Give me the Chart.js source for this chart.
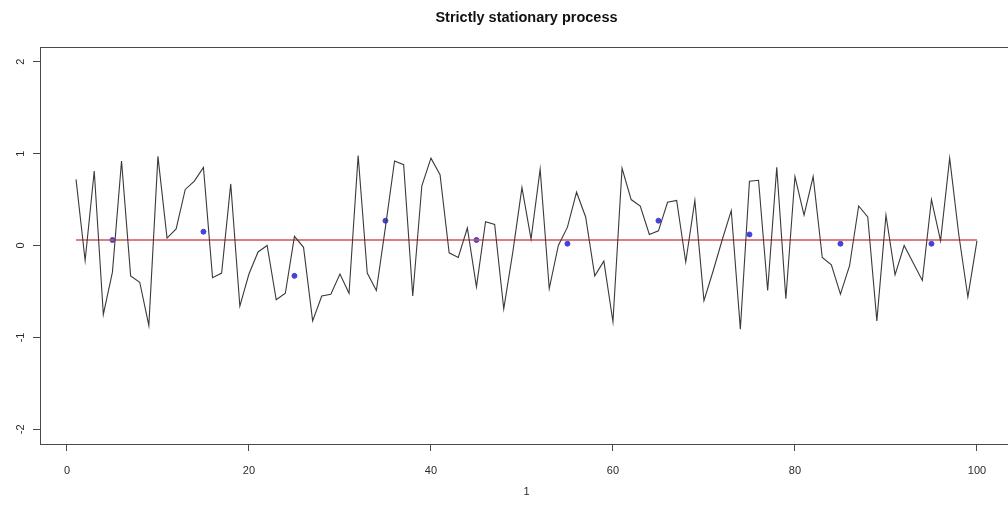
<!DOCTYPE html>
<html>
<head>
<meta charset="utf-8">
<script src="https://cdn.jsdelivr.net/npm/chart.js@4/dist/chart.umd.min.js"></script>
<style>
  html, body { margin: 0; padding: 0; background: #fff; overflow: hidden; }
  #wrap { width: 1008px; height: 506px; overflow: hidden; }
</style>
</head>
<body>
<div id="wrap"><canvas id="myChart" width="1021" height="506"></canvas></div>
<script>
const titleText = 'Strictly stationary process';
const xAxisTitle = '1';
const xTicks = [0, 20, 40, 60, 80, 100];
const yTicks = [-2, -1, 0, 1, 2];

// the process, t = 1..100
const series = [
  0.72, -0.165, 0.81, -0.75, -0.29, 0.92, -0.33, -0.40, -0.87, 0.97,
  0.08, 0.18, 0.61, 0.70, 0.85, -0.35, -0.30, 0.67, -0.66, -0.31,
  -0.07, 0.0, -0.59, -0.52, 0.10, -0.02, -0.82, -0.55, -0.53, -0.31,
  -0.52, 0.98, -0.30, -0.49, 0.20, 0.92, 0.88, -0.55, 0.65, 0.95,
  0.77, -0.08, -0.13, 0.19, -0.45, 0.26, 0.23, -0.69, -0.07, 0.63,
  0.07, 0.83, -0.47, 0.0, 0.20, 0.58, 0.31, -0.33, -0.17, -0.83,
  0.84, 0.50, 0.43, 0.12, 0.16, 0.47, 0.49, -0.18, 0.49, -0.60,
  -0.28, 0.06, 0.38, -0.91, 0.70, 0.71, -0.49, 0.85, -0.58, 0.75,
  0.33, 0.75, -0.13, -0.21, -0.53, -0.22, 0.43, 0.31, -0.82, 0.33,
  -0.32, 0.0, -0.19, -0.38, 0.50, 0.05, 0.95, 0.12, -0.56, 0.05
];

// block means, plotted at the middle of each block of ten
const blockCenters = [5, 15, 25, 35, 45, 55, 65, 75, 85, 95];
const blockMeans = [0.06, 0.15, -0.33, 0.27, 0.06, 0.02, 0.27, 0.12, 0.02, 0.02];

const meanLevel = 0.06;
const meanRange = [1, 100];

const axisColor = '#4a4a4a';
const textColor = '#2a2a2a';
const labelFont = '11px "Liberation Sans", Arial, sans-serif';

const rBox = {
  id: 'rBox',
  afterDraw(chart) {
    const {ctx, chartArea: a, scales} = chart;
    ctx.save();
    ctx.strokeStyle = axisColor;
    ctx.lineWidth = 1;
    ctx.strokeRect(a.left + 0.5, a.top + 0.5, a.right - a.left, a.bottom - a.top);

    ctx.fillStyle = textColor;
    ctx.font = labelFont;
    ctx.textAlign = 'center';
    ctx.textBaseline = 'middle';
    xTicks.forEach(v => {
      ctx.fillText(String(v), scales.x.getPixelForValue(v), 471);
    });
    ctx.fillText(xAxisTitle, (a.left + a.right) / 2, 492);

    yTicks.forEach(v => {
      const y = scales.y.getPixelForValue(v);
      ctx.save();
      ctx.translate(21, y);
      ctx.rotate(-Math.PI / 2);
      ctx.fillText(String(v), 0, 0);
      ctx.restore();
    });

    ctx.font = 'bold 14.5px "Liberation Sans", Arial, sans-serif';
    ctx.fillStyle = '#111';
    ctx.fillText(titleText, (a.left + a.right) / 2, 18);
    ctx.restore();
  }
};

const config = {
  type: 'line',
  data: {
    datasets: [
      {
        data: series.map((v, i) => ({x: i + 1, y: v})),
        borderColor: '#3a3a3a',
        borderWidth: 1.1,
        pointRadius: 0,
        tension: 0
      },
      {
        data: meanRange.map(x => ({x: x, y: meanLevel})),
        borderColor: '#d65353',
        borderWidth: 1.3,
        pointRadius: 0
      },
      {
        type: 'scatter',
        data: blockCenters.map((x, i) => ({x: x, y: blockMeans[i]})),
        backgroundColor: '#4343d8',
        borderColor: '#4343d8',
        pointRadius: 2.5,
        showLine: false
      }
    ]
  },
  options: {
    responsive: false,
    animation: false,
    layout: { padding: { left: 33, top: 47, right: 8, bottom: 55 } },
    plugins: {
      legend: { display: false },
      tooltip: { enabled: false },
      title: { display: false }
    },
    scales: {
      x: {
        type: 'linear',
        min: -2.96,
        max: 103.96,
        afterBuildTicks: scale => { scale.ticks = xTicks.map(v => ({value: v})); },
        ticks: { display: false },
        grid: { drawOnChartArea: false, drawTicks: true, tickLength: 7, color: axisColor },
        border: { display: false }
      },
      y: {
        min: -2.16,
        max: 2.16,
        afterBuildTicks: scale => { scale.ticks = yTicks.map(v => ({value: v})); },
        ticks: { display: false },
        grid: { drawOnChartArea: false, drawTicks: true, tickLength: 7, color: axisColor },
        border: { display: false }
      }
    }
  },
  plugins: [rBox]
};

new Chart(document.getElementById('myChart'), config);
</script>
</body>
</html>
